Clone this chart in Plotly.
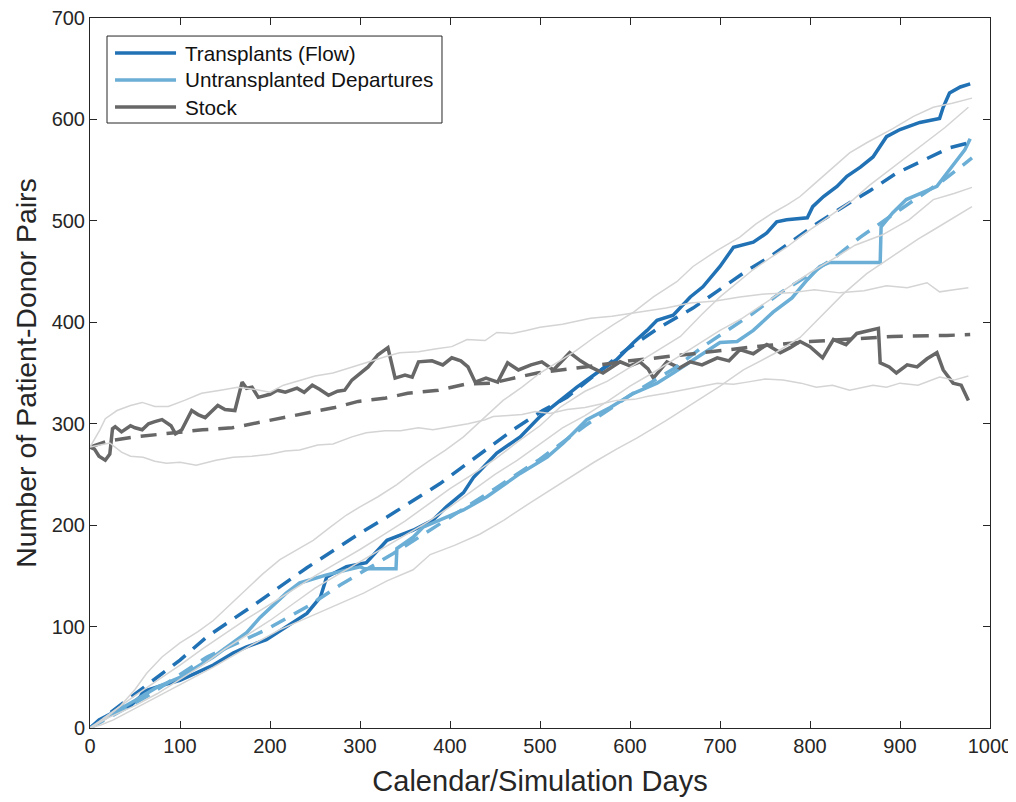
import plotly.graph_objects as go

# ---- data (days, counts) ----
tx_days = [0, 10, 25, 45, 56, 59, 80, 100, 120, 137, 159, 174, 196, 218, 241, 256, 263, 285, 307, 330,
           359, 381, 396, 415, 426, 452, 478, 500, 522, 541, 563, 585, 604, 619, 630, 648, 667, 681, 700,
           715, 737, 752, 763, 774, 797, 803, 815, 830, 841, 856, 870, 885, 900, 922, 944, 948, 955, 967, 978]
tx_vals = [0, 8, 15, 22, 31, 36, 42, 47, 55, 62, 74, 80, 87, 100, 113, 129, 149, 159, 163, 185,
           195, 205, 218, 232, 247, 271, 287, 307, 323, 336, 350, 363, 380, 392, 402, 407, 425, 435, 455,
           474, 479, 488, 499, 501, 503, 514, 524, 534, 544, 553, 563, 583, 590, 597, 601, 612, 626, 632, 635]

tx_mean_days = [0, 50, 100, 130, 185, 241, 300, 330, 389, 444, 470, 503, 530, 596, 633, 670, 700, 730,
                756, 781, 807, 837, 867, 896, 926, 955, 977]
tx_mean_vals = [0, 34, 67, 90, 123, 158, 192, 208, 241, 277, 294, 313, 326, 373, 395, 414, 432, 451,
                465, 481, 497, 514, 530, 547, 560, 572, 577]

ud_days = [0, 26, 50, 74, 100, 137, 174, 189, 218, 233, 263, 285, 300, 305, 340, 341, 359, 370, 389, 415,
           441, 478, 508, 526, 552, 578, 604, 630, 648, 670, 700, 719, 737, 759, 780, 797, 811, 822, 878,
           879, 892, 907, 922, 941, 952, 963, 972, 978]
ud_vals = [0, 15, 27, 40, 50, 70, 94, 109, 133, 143, 151, 156, 159, 157, 157, 177, 188, 198, 205, 215,
           228, 251, 267, 281, 304, 316, 330, 340, 350, 363, 380, 381, 392, 410, 424, 442, 455, 459, 459,
           494, 508, 521, 527, 534, 547, 560, 570, 581]

ud_mean_days = [0, 63, 130, 196, 244, 278, 337, 396, 450, 500, 550, 600, 650, 681, 708, 737, 767, 796,
                826, 856, 900, 948, 970, 980]
ud_mean_vals = [0, 31, 70, 97, 121, 141, 172, 205, 236, 265, 298, 328, 355, 376, 392, 409, 429, 445,
                463, 484, 511, 540, 555, 562]

stock_days = [0, 5, 10, 17, 22, 25, 28, 35, 45, 50, 58, 65, 72, 80, 90, 95, 102, 113, 120, 128, 135, 142,
              150, 161, 169, 174, 180, 187, 200, 208, 217, 230, 238, 247, 255, 265, 275, 283, 291, 300,
              309, 320, 331, 339, 350, 358, 365, 380, 392, 402, 412, 420, 428, 440, 453, 464, 476, 490,
              502, 515, 524, 533, 545, 556, 570, 580, 589, 600, 611, 620, 626, 641, 655, 667, 680, 697,
              710, 722, 737, 752, 767, 778, 789, 800, 814, 826, 840, 852, 867, 876, 878, 888, 896, 908,
              919, 930, 941, 948, 959, 968, 976]
stock_vals = [277, 275, 268, 264, 270, 295, 297, 292, 298, 296, 294, 300, 302, 304, 298, 290, 294, 313,
              309, 306, 312, 318, 314, 313, 341, 335, 336, 326, 329, 333, 331, 335, 331, 338, 334, 328,
              332, 333, 343, 350, 356, 368, 375, 345, 348, 346, 361, 362, 358, 365, 362, 356, 341, 345,
              341, 360, 353, 358, 361, 353, 361, 370, 362, 356, 350, 356, 361, 357, 361, 354, 345, 361,
              355, 361, 358, 365, 362, 373, 369, 378, 370, 375, 381, 376, 365, 383, 378, 389, 392, 394,
              360, 356, 350, 358, 356, 364, 370, 353, 340, 338, 323]

stock_mean_days = [0, 20, 50, 92, 125, 158, 187, 217, 244, 272, 298, 327, 353, 387, 417, 447, 476, 497,
                   550, 600, 650, 700, 750, 800, 850, 892, 952, 978]
stock_mean_vals = [277, 283, 287, 291, 294, 296, 301, 307, 311, 316, 322, 325, 330, 333, 339, 340, 346,
                   350, 356, 362, 367, 372, 377, 381, 384, 386, 387, 388]

# percentile bands (thin light grey)
tx_hi_days = [0, 15, 33, 50, 63, 80, 100, 120, 137, 155, 174, 192, 211, 230, 248, 267, 285, 300, 320, 341,
              360, 378, 395, 415, 437, 459, 480, 500, 522, 540, 560, 582, 604, 626, 652, 670, 697, 722,
              740, 759, 775, 789, 803, 818, 844, 863, 880, 892, 915, 937, 958, 980]
tx_hi_vals = [0, 8, 21, 38, 54, 70, 84, 95, 106, 121, 136, 152, 166, 176, 185, 198, 210, 218, 228, 240,
              253, 264, 274, 287, 305, 323, 336, 350, 362, 372, 385, 398, 410, 425, 440, 455, 471, 484,
              497, 508, 516, 524, 535, 547, 567, 577, 585, 591, 603, 612, 616, 621]

tx_lo_days = [0, 20, 50, 75, 100, 125, 150, 175, 200, 225, 250, 275, 300, 325, 350, 375, 400, 425, 450,
              475, 500, 525, 550, 575, 600, 625, 650, 675, 700, 725, 750, 775, 800, 825, 850, 880, 910,
              937, 960, 980]
tx_lo_vals = [0, 10, 22, 34, 48, 62, 78, 92, 106, 122, 138, 151, 164, 177, 190, 203, 218, 234, 250,
              264, 280, 296, 308, 322, 337, 350, 364, 378, 392, 404, 419, 434, 449, 462, 476, 486, 501,
              521, 527, 533]

ud_hi_days = [0, 25, 50, 75, 100, 125, 150, 175, 200, 225, 250, 275, 300, 325, 350, 375, 400, 425, 450,
              475, 500, 522, 550, 575, 596, 625, 656, 680, 700, 720, 737, 755, 774, 790, 811, 830, 848,
              866, 885, 905, 922, 950, 976]
ud_hi_vals = [0, 16, 32, 47, 62, 78, 93, 108, 122, 136, 150, 163, 176, 190, 204, 220, 236, 250, 265,
              282, 298, 316, 332, 342, 353, 369, 386, 408, 425, 440, 452, 463, 474, 485, 498, 510, 521,
              535, 548, 561, 573, 592, 612]

ud_lo_days = [0, 12, 26, 45, 63, 100, 137, 174, 211, 250, 285, 304, 330, 359, 378, 405, 433, 460, 489,
              510, 533, 560, 585, 608, 640, 670, 700, 726, 760, 789, 815, 837, 863, 885, 900, 920, 937,
              960, 980]
ud_lo_vals = [0, 3, 8, 17, 25, 43, 60, 79, 97, 112, 126, 133, 145, 156, 171, 180, 191, 205, 222, 234,
              247, 262, 275, 286, 303, 320, 337, 353, 369, 385, 408, 428, 448, 461, 470, 482, 491, 503,
              514]

stock_hi_days = [0, 11, 17, 30, 45, 58, 72, 87, 105, 124, 145, 164, 182, 200, 215, 233, 250, 270, 291,
                 307, 328, 344, 365, 385, 402, 419, 439, 452, 469, 485, 500, 525, 556, 580, 611, 640, 667,
                 695, 722, 750, 778, 805, 833, 860, 885, 908, 930, 944, 960, 976]
stock_hi_vals = [277, 294, 305, 313, 318, 321, 317, 317, 323, 330, 333, 336, 334, 331, 338, 343, 347,
                 350, 356, 360, 366, 370, 371, 374, 376, 383, 382, 390, 389, 392, 395, 398, 404, 406, 410,
                 414, 419, 421, 425, 428, 429, 432, 429, 431, 436, 434, 439, 430, 432, 434]

stock_lo_days = [0, 10, 22, 35, 45, 59, 72, 85, 100, 118, 140, 159, 180, 200, 217, 233, 253, 270, 291,
                 307, 328, 345, 365, 381, 402, 420, 439, 448, 465, 480, 495, 511, 530, 550, 570, 585, 605,
                 620, 640, 659, 680, 697, 715, 730, 750, 770, 790, 807, 825, 844, 870, 885, 900, 920, 944,
                 960, 976]
stock_lo_vals = [277, 279, 281, 272, 268, 267, 263, 261, 262, 259, 264, 267, 268, 270, 273, 274, 279,
                 280, 287, 291, 293, 293, 296, 294, 297, 300, 304, 307, 308, 309, 312, 310, 314, 316, 320,
                 323, 324, 327, 330, 333, 337, 340, 339, 341, 344, 343, 340, 336, 338, 333, 338, 336, 340,
                 338, 346, 343, 347]

x_ticks = [0, 100, 200, 300, 400, 500, 600, 700, 800, 900, 1000]
y_ticks = [0, 100, 200, 300, 400, 500, 600, 700]

legend_names = ['Transplants (Flow)', 'Untransplanted Departures', 'Stock']

DARK = '#2171b5'
LIGHT = '#6baed6'
GREY = '#676767'
BAND = '#d4d4d4'
AXIS = '#262626'
DASH = '16px,10px'
FONT = 'Liberation Sans, Arial, sans-serif'
legend_colors = [DARK, LIGHT, GREY]

fig = go.Figure()

# realised paths (solid) and means (dashed)
for d, v, c, n in [(tx_days, tx_vals, DARK, legend_names[0]),
                   (ud_days, ud_vals, LIGHT, legend_names[1]),
                   (stock_days, stock_vals, GREY, legend_names[2])]:
    fig.add_trace(go.Scatter(x=d, y=v, mode='lines', name=n, showlegend=False,
                             line=dict(color=c, width=3.5)))

for d, v, c in [(tx_mean_days, tx_mean_vals, DARK),
                (ud_mean_days, ud_mean_vals, LIGHT),
                (stock_mean_days, stock_mean_vals, GREY)]:
    fig.add_trace(go.Scatter(x=d, y=v, mode='lines', showlegend=False,
                             line=dict(color=c, width=3.5, dash=DASH)))

# bands on top, like the original
for d, v in [(tx_hi_days, tx_hi_vals), (tx_lo_days, tx_lo_vals),
             (ud_hi_days, ud_hi_vals), (ud_lo_days, ud_lo_vals),
             (stock_hi_days, stock_hi_vals), (stock_lo_days, stock_lo_vals)]:
    fig.add_trace(go.Scatter(x=d, y=v, mode='lines', showlegend=False,
                             line=dict(color=BAND, width=1.5)))

# MATLAB-style legend box drawn by hand (longer line samples, tighter rows)
fig.add_shape(type='rect', xref='paper', yref='paper', x0=0.0189, x1=0.3911, y0=0.8521, y1=0.9746,
              line=dict(color=AXIS, width=1), fillcolor='white', layer='above')
row_y = [0.9507, 0.9127, 0.8746]
for yy, name, col in zip(row_y, legend_names, legend_colors):
    fig.add_shape(type='line', xref='paper', yref='paper', x0=0.0278, x1=0.0956, y0=yy, y1=yy,
                  line=dict(color=col, width=3.5), layer='above')
    fig.add_annotation(xref='paper', yref='paper', x=0.1033, y=yy, text=name, showarrow=False,
                       xanchor='left', yanchor='middle',
                       font=dict(family=FONT, size=20.7, color='#111111'))

axis_common = dict(
    showline=True, linecolor=AXIS, linewidth=1, mirror='ticks',
    ticks='inside', ticklen=7, tickcolor=AXIS, tickwidth=1,
    showgrid=False, zeroline=False, automargin=False, ticklabeloverflow='allow',
    tickfont=dict(family=FONT, size=20, color=AXIS),
)

# the page adds an 8px body margin, so the margins are shifted to compensate
fig.update_layout(
    width=1016, height=802,
    margin=dict(l=82, r=34, t=10, b=82),
    paper_bgcolor='white', plot_bgcolor='white',
    font=dict(family=FONT, color=AXIS),
    showlegend=False,
    xaxis=dict(range=[0, 1000], tickvals=x_ticks,
               title=dict(text='Calendar/Simulation Days', font=dict(size=29, color=AXIS), standoff=14),
               **axis_common),
    yaxis=dict(range=[0, 700], tickvals=y_ticks,
               title=dict(text='Number of Patient-Donor Pairs', font=dict(size=28.5, color=AXIS), standoff=6),
               **axis_common),
)

fig.write_html('out.html')
